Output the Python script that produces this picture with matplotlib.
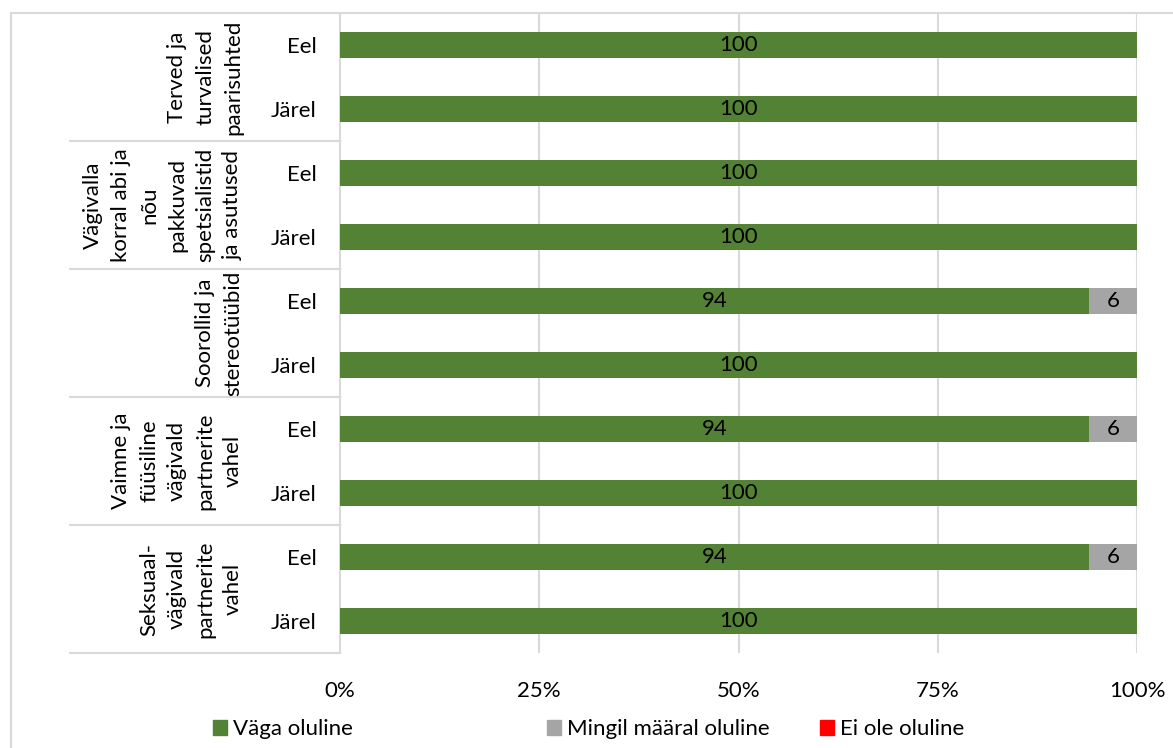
import matplotlib.pyplot as plt
from matplotlib.lines import Line2D
from matplotlib.patches import Rectangle
import numpy as np

plt.rcParams['font.family'] = ['Lato', 'DejaVu Sans']

groups = [
    "Terved ja\nturvalised\npaarisuhted",
    "Vägivalla\nkorral abi ja\nnõu\npakkuvad\nspetsialistid\nja asutused",
    "Soorollid ja\nstereotüübid",
    "Vaimne ja\nfüüsiline\nvägivald\npartnerite\nvahel",
    "Seksuaal-\nvägivald\npartnerite\nvahel",
]
subcats = ["Eel", "Järel"] * 5
series_names = ["Väga oluline", "Mingil määral oluline", "Ei ole oluline"]
vaga = [100, 100, 100, 100, 94, 100, 94, 100, 94, 100]
mingil = [0, 0, 0, 0, 6, 0, 6, 0, 6, 0]
ei_ole = [0, 0, 0, 0, 0, 0, 0, 0, 0, 0]
colors = ["#548235", "#A5A5A5", "#FF0000"]

W, H = 1173, 748
fig = plt.figure(figsize=(W / 100, H / 100), dpi=100)
ax = fig.add_axes([340 / W, 1 - 653 / H, (1137 - 340) / W, (653 - 13) / H])

# chart border
fig.patches.append(Rectangle((11 / W, -0.1), 1.2, 1 - 12.5 / H + 0.1, transform=fig.transFigure,
                             fill=False, edgecolor="#D9D9D9", linewidth=1.5))

y = np.arange(len(subcats))
left = np.zeros(len(subcats))
fs = 16
for vals, name, c in zip([vaga, mingil, ei_ole], series_names, colors):
    bars = ax.barh(y, vals, left=left, height=0.4, color=c, label=name, zorder=3)
    labels = [str(v) if v > 0 else "" for v in vals]
    ax.bar_label(bars, labels=labels, label_type="center", fontsize=fs, color="#000000")
    left += np.array(vals)

ax.set_xlim(0, 100)
ax.set_ylim(len(subcats) - 0.5, -0.5)
ax.set_xticks([0, 25, 50, 75, 100])
ax.set_xticklabels(["0%", "25%", "50%", "75%", "100%"], fontsize=fs)
ax.set_yticks(y)
ax.set_yticklabels(subcats, fontsize=fs)
ax.tick_params(axis="both", length=0)
ax.tick_params(axis="x", pad=20)
ax.tick_params(axis="y", pad=17)
ax.grid(axis="x", color="#D9D9D9", linewidth=1.5, zorder=0)
for s in ["top", "right", "bottom"]:
    ax.spines[s].set_visible(False)
ax.spines["left"].set_color("#D9D9D9")
ax.spines["left"].set_linewidth(1.5)

# group labels and separators
tr = ax.get_yaxis_transform()
x_lab = (243 - 340) / (1137 - 340)
x_sep = (70 - 340) / (1137 - 340)
for i, g in enumerate(groups):
    yc = 2 * i + 0.5
    ax.text(x_lab, yc, g, transform=tr, rotation=90, ha="right", va="center",
            multialignment="center", fontsize=fs, linespacing=1.5)
    ax.add_line(Line2D([x_sep, 0], [2 * i + 1.5, 2 * i + 1.5], transform=tr,
                       color="#D9D9D9", linewidth=1.5, clip_on=False))

# legend
handles = [Rectangle((0, 0), 1, 1, color=c) for c in colors]
for h, name, xp in zip(handles, series_names, [213, 547, 820]):
    leg = fig.legend([h], [name], loc="center left", bbox_to_anchor=(xp / W, 1 - 729 / H),
                     frameon=False, fontsize=fs, handlelength=0.65, handleheight=0.65,
                     handletextpad=0.25, borderpad=0, borderaxespad=0)

fig.savefig("out.png", dpi=100)
